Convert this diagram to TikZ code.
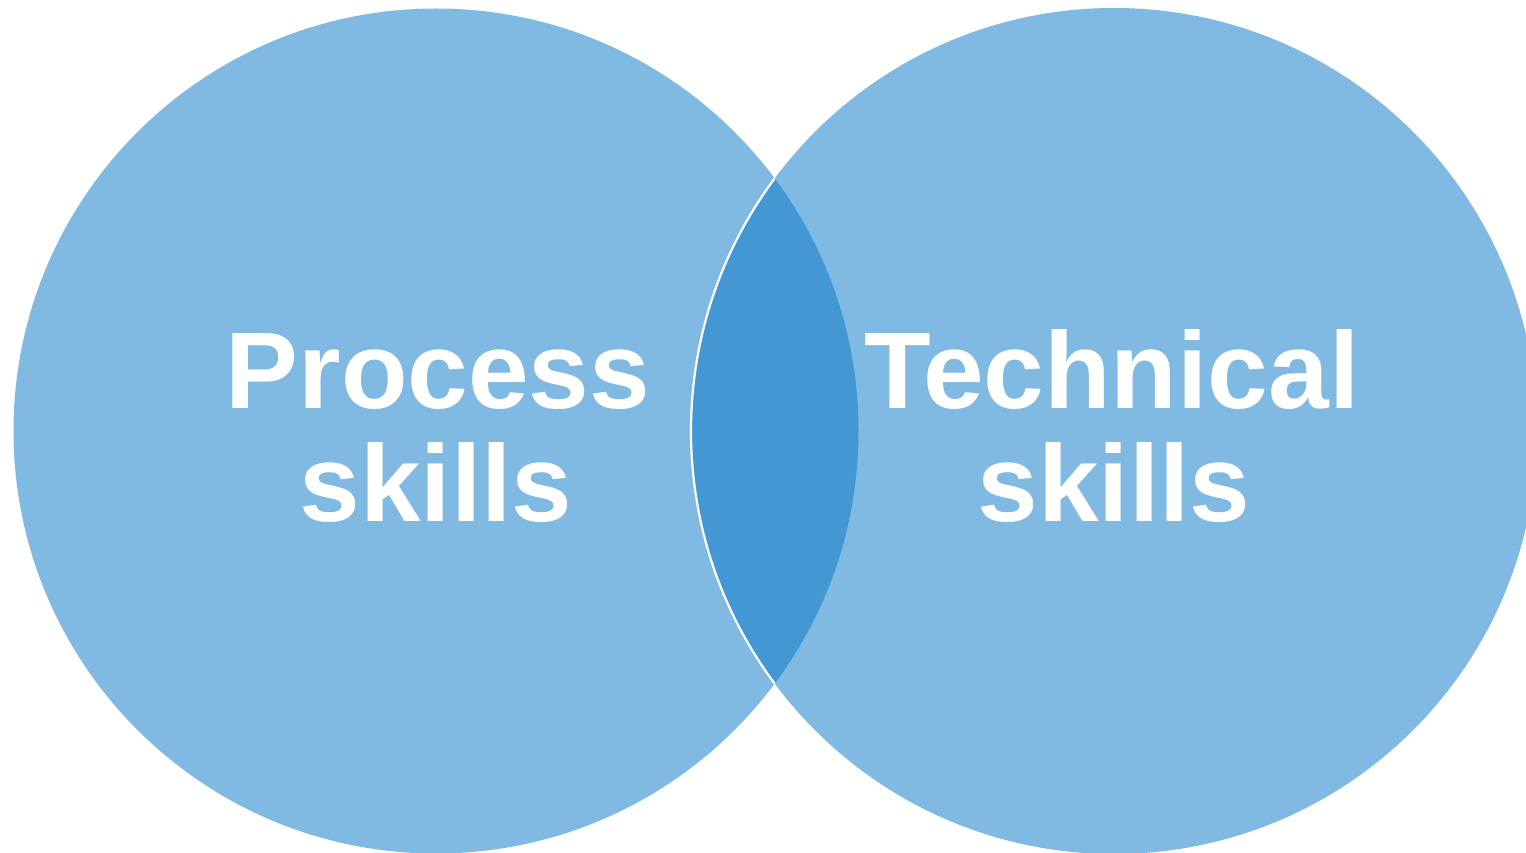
\documentclass[tikz,border=0pt]{standalone}
\usepackage{fontspec}
\setmainfont{Liberation Sans}
\definecolor{light}{HTML}{80B9E2}
\definecolor{dark}{HTML}{4398D4}
\tikzset{
  label/.style={text=white, font=\fontsize{109}{113}\selectfont\bfseries, align=center, inner sep=0pt}
}
\begin{document}
\begin{tikzpicture}[x=1pt,y=-1pt]
\useasboundingbox (0,0) rectangle (1526,853);
\begin{scope}
\clip (0,0) rectangle (1526,853);
\fill[light] (436,431) circle (422.5);
\fill[light] (1114,431) circle (423);
\begin{scope}
\clip (436,431) circle (422.5);
\fill[dark] (1114,431) circle (423);
\draw[white, line width=2.2pt] (1114,431) circle (423);
\end{scope}
\end{scope}
\node[label, anchor=base] (p1) at (438,408) {Process};
\node[label, anchor=base] (p2) at (436,521) {skills};
\node[label, anchor=base] (t1) at (1112,408) {Technical};
\node[label, anchor=base] (t2) at (1114,521) {skills};
\end{tikzpicture}
\end{document}
